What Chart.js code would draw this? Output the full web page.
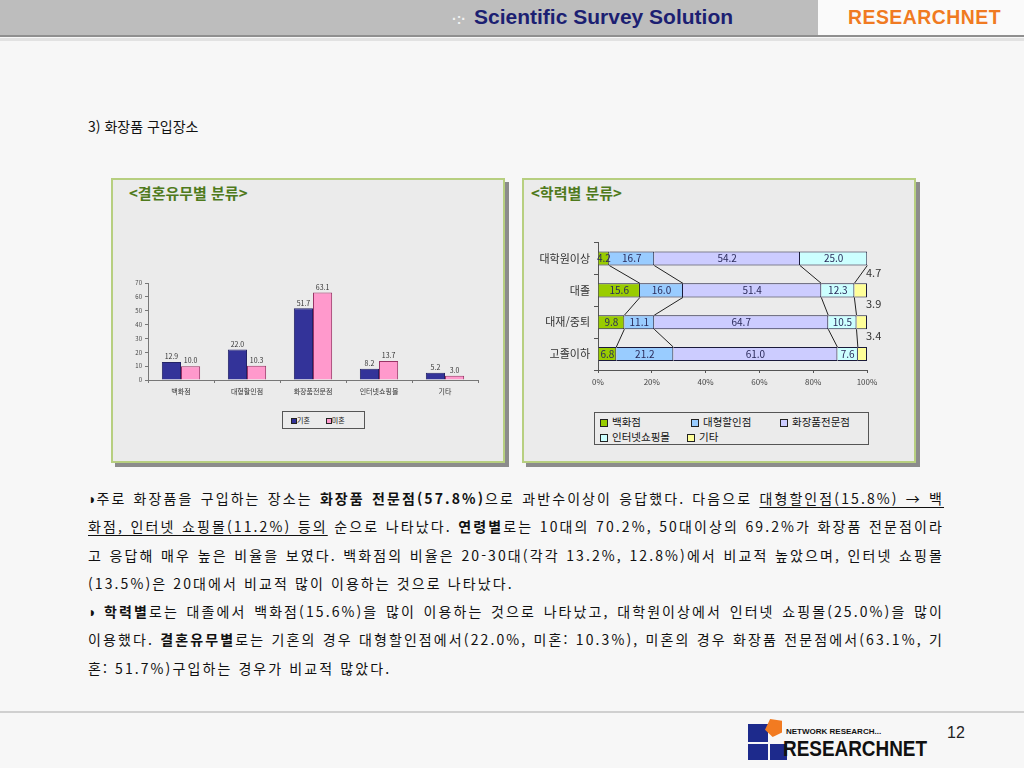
<!DOCTYPE html>
<html lang="ko">
<head>
<meta charset="utf-8">
<title>화장품 구입장소</title>
<script src="https://cdn.jsdelivr.net/npm/chart.js@4.4.1/dist/chart.umd.min.js"></script>
<style>
html, body { margin: 0; padding: 0; }
body { width: 1024px; height: 768px; position: relative; overflow: hidden; background: #f7f7f7; font-family: 'Noto Sans CJK KR', sans-serif; color: #111; }
.abs { position: absolute; }
#header { left: 0; top: 0; width: 1024px; height: 35px; background: #bdbdbd; border-bottom: 2px solid #8f8f8f; }
#header2 { left: 0; top: 38px; width: 1024px; height: 3px; background: #e2e2e2; }
#brand { left: 818px; top: 0; width: 206px; height: 35px; background: #fafafa; }
#brand div { position: absolute; left: 30px; top: 6px; color: #f07a22; font: bold 20px 'Liberation Sans', sans-serif; transform: scaleX(0.97); transform-origin: left; letter-spacing: 0.5px; white-space: nowrap; }
#sss { left: 452px; top: 5px; color: #1c1f72; font: bold 21px 'Liberation Sans', sans-serif; white-space: nowrap; }
#sss span { color: #f2f2f2; font-size: 14px; margin-right: 8px; }
#title { left: 88px; top: 116px; font-size: 14px; }
.box { background: #ebebeb; border: 2px solid #b7cf80; box-shadow: 4px 4px 0 #8c8c8c; }
.ctitle { font-size: 15px; font-weight: 600; color: #4f7a1c; }
.legend { border: 1px solid #555; background: #ebebeb; }
.sw { display: inline-block; border: 1px solid #222; vertical-align: middle; }
#text { left: 88px; top: 484px; width: 856px; font-size: 14px; line-height: 28.3px; letter-spacing: 2.1px; }
#text div { text-align: justify; text-align-last: justify; white-space: nowrap; }
#text div.last { text-align-last: left; }
#text u { text-decoration-thickness: 1px; text-underline-offset: 3px; }
#text .bl { font-size: 14px; letter-spacing: 0; }
#footline { left: 0; top: 711px; width: 1024px; height: 2px; background: #d0d0d0; }
#page { left: 947px; top: 724px; font: 16px 'Liberation Sans', sans-serif; color: #222; }
</style>
</head>
<body>

<div id="header" class="abs"></div>
<div id="header2" class="abs"></div>
<div id="sss" class="abs"><span>·:·</span>Scientific Survey Solution</div>
<div id="brand" class="abs"><div>RESEARCHNET</div></div>

<div id="title" class="abs">3) 화장품 구입장소</div>

<!-- 결혼유무별 -->
<div class="abs box" style="left:111px;top:178px;width:390px;height:281px;"></div>
<div class="abs ctitle" style="left:129px;top:182px;">&lt;결혼유무별 분류&gt;</div>
<div class="abs" style="left:112px;top:270px;width:380px;height:132px;"><canvas id="marriageChart"></canvas></div>
<div class="abs legend" style="left:282px;top:411px;width:81px;height:16px;font-size:7px;line-height:16px;">
  <span style="margin-left:8px;"><i class="sw" style="width:4px;height:4px;background:#333399;"></i>기혼</span>
  <span style="margin-left:14px;"><i class="sw" style="width:4px;height:4px;background:#ff99cc;"></i>미혼</span>
</div>

<!-- 학력별 -->
<div class="abs box" style="left:522px;top:178px;width:390px;height:281px;"></div>
<div class="abs ctitle" style="left:531px;top:182px;">&lt;학력별 분류&gt;</div>
<div class="abs" style="left:523px;top:232px;width:390px;height:160px;"><canvas id="eduChart"></canvas></div>
<div class="abs legend" id="eduLegend" style="left:594px;top:412px;width:273px;height:31px;font-size:10.5px;line-height:15px;"></div>

<div id="text" class="abs">
  <div><span class="bl">◗</span>주로 화장품을 구입하는 장소는 <b>화장품 전문점(57.8%)</b>으로 과반수이상이 응답했다. 다음으로 <u>대형할인점(15.8%) → 백</u></div>
  <div><u>화점, 인터넷 쇼핑몰(11.2%) 등의</u> 순으로 나타났다. <b>연령별</b>로는 10대의 70.2%, 50대이상의 69.2%가 화장품 전문점이라</div>
  <div>고 응답해 매우 높은 비율을 보였다. 백화점의 비율은 20-30대(각각 13.2%, 12.8%)에서 비교적 높았으며, 인터넷 쇼핑몰</div>
  <div class="last">(13.5%)은 20대에서 비교적 많이 이용하는 것으로 나타났다.</div>
  <div><span class="bl">◗</span> <b>학력별</b>로는 대졸에서 백화점(15.6%)을 많이 이용하는 것으로 나타났고, 대학원이상에서 인터넷 쇼핑몰(25.0%)을 많이</div>
  <div>이용했다. <b>결혼유무별</b>로는 기혼의 경우 대형할인점에서(22.0%, 미혼: 10.3%), 미혼의 경우 화장품 전문점에서(63.1%, 기</div>
  <div class="last">혼: 51.7%)구입하는 경우가 비교적 많았다.</div>
</div>

<div id="footline" class="abs"></div>
<!-- 로고 -->
<div class="abs" style="left:748px;top:724px;width:20px;height:18px;background:#1d2a8c;"></div>
<div class="abs" style="left:748px;top:744px;width:20px;height:16px;background:#1d2a8c;"></div>
<div class="abs" style="left:770px;top:744px;width:17px;height:16px;background:#1d2a8c;"></div>
<div class="abs" style="left:765px;top:719px;width:17px;height:18px;background:#f27b21;clip-path:polygon(30% 0,100% 10%,100% 75%,45% 100%,0 60%);"></div>
<div class="abs" style="left:786px;top:727px;font:bold 8px 'Liberation Sans',sans-serif;color:#111;">NETWORK RESEARCH...</div>
<div class="abs" style="left:783px;top:736px;font:bold 22px 'Liberation Sans',sans-serif;color:#111;transform:scaleX(0.86);transform-origin:left;white-space:nowrap;">RESEARCHNET</div>
<div id="page" class="abs">12</div>

<script>
// 결혼유무별 데이터
const marriageCategories = ['백화점', '대형할인점', '화장품전문점', '인터넷쇼핑몰', '기타'];
const marriedValues = [12.9, 22.0, 51.7, 8.2, 5.2];
const singleValues = [10.0, 10.3, 63.1, 13.7, 3.0];
const marriageTicks = [0, 10, 20, 30, 40, 50, 60, 70];

// 학력별 데이터 (%)
const eduCategories = ['대학원이상', '대졸', '대재/중퇴', '고졸이하'];
const eduSeries = ['백화점', '대형할인점', '화장품전문점', '인터넷쇼핑몰', '기타'];
const deptStore = [4.2, 15.6, 9.8, 6.8];
const discountStore = [16.7, 16.0, 11.1, 21.2];
const cosmeticShop = [54.2, 51.4, 64.7, 61.0];
const onlineMall = [25.0, 12.3, 10.5, 7.6];
const etcShop = [0, 4.7, 3.9, 3.4];
const eduTicks = [0, 20, 40, 60, 80, 100];

const eduColors = ['#99cc00', '#99ccff', '#ccccff', '#ccffff', '#ffff99'];

Chart.defaults.font.family = "'Noto Sans CJK KR', sans-serif";
Chart.defaults.color = '#333';
Chart.defaults.animation = false;

// 막대 위 값 표시
const barValueLabels = {
    id: 'barValueLabels',
    afterDatasetsDraw(chart) {
        const ctx = chart.ctx;
        ctx.save();
        ctx.font = "7px 'Noto Sans CJK KR', sans-serif";
        ctx.fillStyle = '#333';
        ctx.textAlign = 'center';
        ctx.textBaseline = 'bottom';
        chart.data.datasets.forEach((ds, i) => {
            chart.getDatasetMeta(i).data.forEach((bar, j) => {
                ctx.fillText(ds.data[j].toFixed(1), bar.x, bar.y - 2);
            });
        });
        ctx.restore();
    }
};

new Chart(document.getElementById('marriageChart'), {
    type: 'bar',
    data: {
        labels: marriageCategories,
        datasets: [
            { label: '기혼', data: marriedValues, backgroundColor: '#333399', borderColor: '#222266', borderWidth: 1 },
            { label: '미혼', data: singleValues, backgroundColor: '#ff99cc', borderColor: '#993366', borderWidth: 1 }
        ]
    },
    options: {
        responsive: true,
        maintainAspectRatio: false,
        categoryPercentage: 0.58,
        barPercentage: 1.0,
        layout: { padding: { top: 13, right: 14, left: 0, bottom: 0 } },
        plugins: { legend: { display: false }, tooltip: { enabled: false } },
        scales: {
            x: {
                grid: { display: true, drawOnChartArea: false, offset: true, tickLength: 3, color: '#777' },
                border: { color: '#777' },
                ticks: { font: { size: 7 }, color: '#333', padding: 4 },
                afterFit: s => { s.height = 22; }
            },
            y: {
                min: 0,
                max: 70,
                afterBuildTicks: s => { s.ticks = marriageTicks.map(v => ({ value: v })); },
                grid: { display: true, drawOnChartArea: false, tickLength: 3, color: '#777' },
                border: { color: '#777' },
                ticks: { font: { size: 6 }, color: '#444', padding: 3 },
                afterFit: s => { s.width = 36; }
            }
        }
    },
    plugins: [barValueLabels]
});

// 학력별: 구간 값 + 계열선
const eduLabels = {
    id: 'eduLabels',
    afterDatasetsDraw(chart) {
        const ctx = chart.ctx;
        const metas = chart.data.datasets.map((d, i) => chart.getDatasetMeta(i));
        ctx.save();
        // 계열선
        ctx.strokeStyle = '#222';
        ctx.lineWidth = 1;
        for (let d = 0; d < metas.length - 1; d++) {
            const bars = metas[d].data;
            for (let j = 0; j < bars.length - 1; j++) {
                const a = bars[j], b = bars[j + 1];
                ctx.beginPath();
                ctx.moveTo(a.x, a.y + a.height / 2);
                ctx.lineTo(b.x, b.y - b.height / 2);
                ctx.stroke();
            }
        }
        // 값
        ctx.font = "10px 'Noto Sans CJK KR', sans-serif";
        ctx.fillStyle = '#2a2a5a';
        ctx.textBaseline = 'middle';
        chart.data.datasets.forEach((ds, i) => {
            metas[i].data.forEach((bar, j) => {
                const v = ds.data[j];
                if (!v) return;
                if (i === metas.length - 1) {
                    ctx.textAlign = 'left';
                    ctx.fillStyle = '#333';
                    ctx.font = "11px 'Noto Sans CJK KR', sans-serif";
                    ctx.fillText(v.toFixed(1), bar.x - 1, bar.y - 18);
                } else {
                    ctx.textAlign = 'center';
                    ctx.fillText(v.toFixed(1), (bar.x + bar.base) / 2, bar.y);
                }
            });
        });
        ctx.restore();
    }
};

const eduData = [deptStore, discountStore, cosmeticShop, onlineMall, etcShop];

new Chart(document.getElementById('eduChart'), {
    type: 'bar',
    data: {
        labels: eduCategories,
        datasets: eduSeries.map((name, i) => ({
            label: name,
            data: eduData[i],
            backgroundColor: eduColors[i],
            borderColor: '#1a1a3a',
            borderWidth: 1
        }))
    },
    options: {
        indexAxis: 'y',
        responsive: true,
        maintainAspectRatio: false,
        categoryPercentage: 1.0,
        barPercentage: 0.44,
        layout: { padding: { top: 6, right: 46, left: 0, bottom: 0 } },
        plugins: { legend: { display: false }, tooltip: { enabled: false } },
        scales: {
            x: {
                stacked: true,
                min: 0,
                max: 100,
                afterBuildTicks: s => { s.ticks = eduTicks.map(v => ({ value: v })); },
                grid: { display: true, drawOnChartArea: false, tickLength: 3, color: '#555' },
                border: { color: '#555' },
                ticks: { font: { size: 8 }, color: '#444', padding: 4, callback: v => v + '%' },
                afterFit: s => { s.height = 22; }
            },
            y: {
                stacked: true,
                grid: { display: true, drawOnChartArea: false, offset: true, tickLength: 4, color: '#555' },
                border: { color: '#555' },
                ticks: { font: { size: 11 }, color: '#333', padding: 4 },
                afterFit: s => { s.width = 75; }
            }
        }
    },
    plugins: [eduLabels]
});

// 학력별 범례
const legendPos = [[5, 1], [96, 1], [185, 1], [5, 16], [92, 16]];
const legendBox = document.getElementById('eduLegend');
eduSeries.forEach((name, i) => {
    const item = document.createElement('span');
    item.className = 'abs';
    item.style.left = legendPos[i][0] + 'px';
    item.style.top = legendPos[i][1] + 'px';
    item.innerHTML = `<i class="sw" style="width:6px;height:6px;margin-right:4px;background:${eduColors[i]};"></i>${name}`;
    legendBox.appendChild(item);
});
</script>
</body>
</html>
